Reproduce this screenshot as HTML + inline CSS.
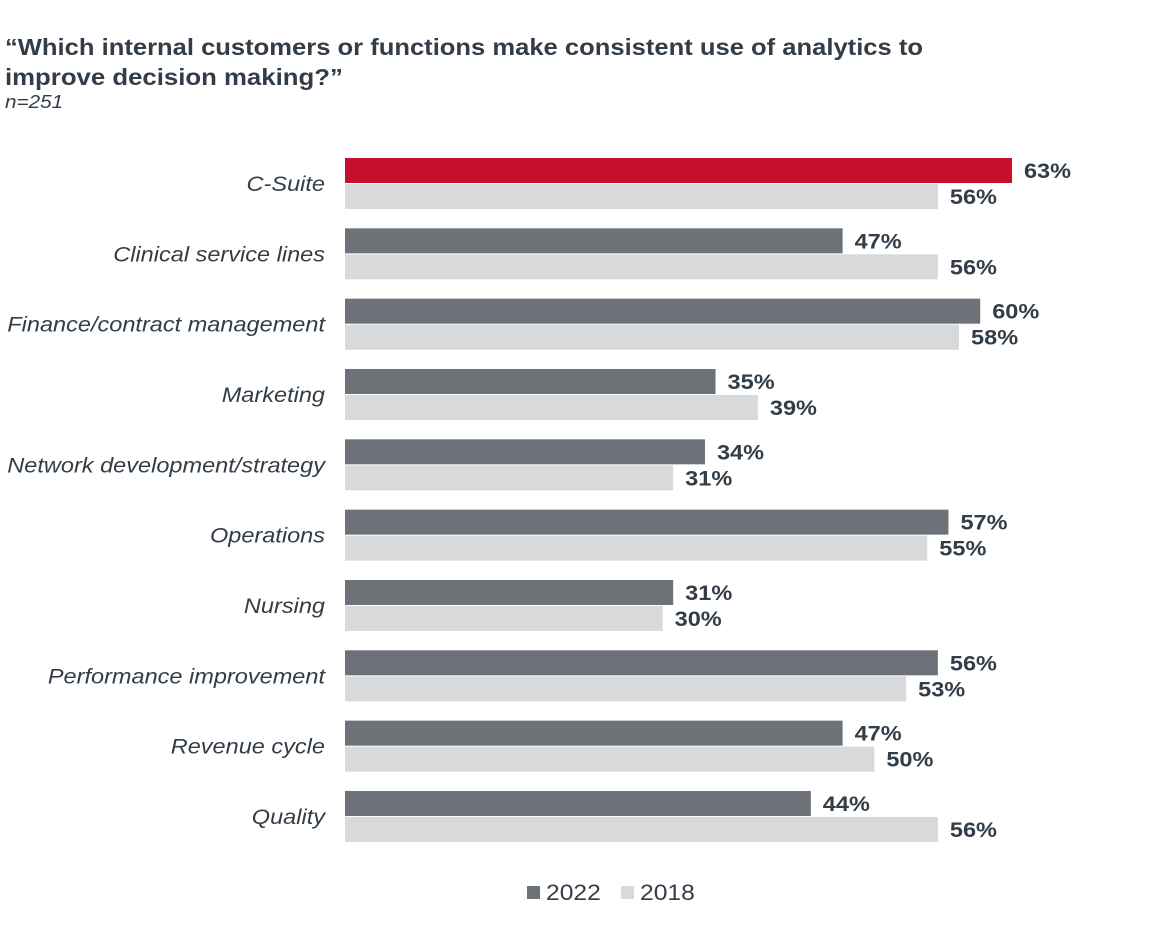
<!DOCTYPE html>
<html><head><meta charset="utf-8"><style>
html,body{margin:0;padding:0;background:#fff;}
svg{display:block;font-family:"Liberation Sans",Arial,sans-serif;}
</style></head><body>
<svg id="s" width="1152" height="941" viewBox="0 0 1152 941" xmlns="http://www.w3.org/2000/svg">
<text x="5" y="55" font-size="23" font-weight="bold" fill="#333d47" textLength="918" lengthAdjust="spacingAndGlyphs">“Which internal customers or functions make consistent use of analytics to</text>
<text class="w" x="5" y="85" font-size="23" font-weight="bold" fill="#333d47">improve decision making?”</text>
<text class="w2" x="5" y="108" font-size="18" font-style="italic" fill="#333d47">n=251</text>
<g id="chart"></g>
<rect x="527" y="886" width="13" height="13" fill="#6d7278"/>
<text class="w" x="546" y="900" font-size="22" fill="#333d47">2022</text>
<rect x="621" y="886" width="13" height="13" fill="#d7d9da"/>
<text class="w" x="640" y="900" font-size="22" fill="#333d47">2018</text>
</svg>
<script>
var d=[["C-Suite",63,56],["Clinical service lines",47,56],["Finance/contract management",60,58],["Marketing",35,39],["Network development/strategy",34,31],["Operations",57,55],["Nursing",31,30],["Performance improvement",56,53],["Revenue cycle",47,50],["Quality",44,56]];
var g=document.getElementById("chart"),s="",k=10.587;
d.forEach(function(r,i){var y=158+70.33*i;var w1=r[1]*k,w2=r[2]*k;
s+='<rect x="345" y="'+y+'" width="'+w1+'" height="25" fill="'+(i==0?'#c8102e':'#6d7278')+'"/>';
s+='<rect x="345" y="'+(y+26)+'" width="'+w2+'" height="25" fill="#d7d9da"/>';
s+='<text class="v" x="'+(345+w1+12)+'" y="'+(y+20)+'" font-size="21" font-weight="bold" fill="#333d47">'+r[1]+'%</text>';
s+='<text class="v" x="'+(345+w2+12)+'" y="'+(y+46)+'" font-size="21" font-weight="bold" fill="#333d47">'+r[2]+'%</text>';
s+='<text class="w" x="325" y="'+(y+33)+'" font-size="21" font-style="italic" fill="#333d47" text-anchor="end">'+r[0]+'</text>';});
g.innerHTML=s;
function st(c,f){var e=document.querySelectorAll(c);for(var i=0;i<e.length;i++){var L=e[i].getComputedTextLength();e[i].setAttribute("textLength",L*f);e[i].setAttribute("lengthAdjust","spacingAndGlyphs");}}
st(".w",1.12);st(".w2",1.15);st(".v",1.12);
</script>
</body></html>
